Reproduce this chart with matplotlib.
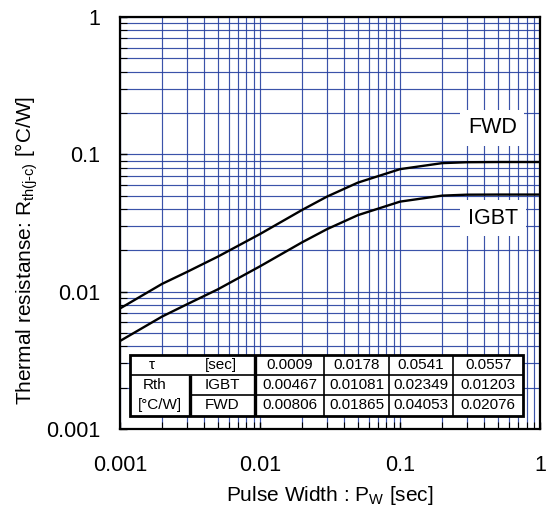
import matplotlib

matplotlib.use("Agg")

import matplotlib.pyplot as plt
from matplotlib.lines import Line2D
from matplotlib.patches import Rectangle
from matplotlib.ticker import FixedLocator, LogLocator, NullFormatter


PULSE_WIDTH = [0.001, 0.002, 0.003, 0.005, 0.01, 0.02, 0.03, 0.05, 0.1, 0.2, 0.3, 0.5, 1.0]
ZTH_IGBT = [0.00437, 0.00659, 0.00808, 0.0104, 0.0153, 0.0229, 0.0285, 0.0361,
            0.0453, 0.0501, 0.0509, 0.0510, 0.0510]
ZTH_FWD = [0.00754, 0.0114, 0.0139, 0.0180, 0.0263, 0.0394, 0.0492, 0.0623,
           0.0781, 0.0864, 0.0877, 0.0880, 0.0880]

TAU_SEC = ["0.0009", "0.0178", "0.0541", "0.0557"]
RTH_IGBT = ["0.00467", "0.01081", "0.02349", "0.01203"]
RTH_FWD = ["0.00806", "0.01865", "0.04053", "0.02076"]

MAJOR_TICKS = [0.001, 0.01, 0.1, 1]
MAJOR_LABELS = ["0.001", "0.01", "0.1", "1"]

GRID_COLOR = "#2640a0"
FONT = "Liberation Sans"

plt.rcParams["font.family"] = [FONT, "DejaVu Sans"]
plt.rcParams["mathtext.fontset"] = "custom"
plt.rcParams["mathtext.rm"] = FONT
plt.rcParams["mathtext.it"] = FONT


def draw_parameter_table(axis):
    """Foster network table drawn in axes-fraction coordinates."""
    # column and row edges, axes fraction
    cols = [0.024, 0.167, 0.321, 0.486, 0.640, 0.793, 0.960]
    rows = [0.180, 0.131, 0.083, 0.032]
    transform = axis.transAxes

    axis.add_patch(Rectangle((cols[0], rows[3]), cols[-1] - cols[0], rows[0] - rows[3],
                             transform=transform, facecolor="white", edgecolor="black",
                             linewidth=2.0, zorder=5))

    def line(x0, x1, y0, y1, width):
        axis.add_line(Line2D([x0, x1], [y0, y1], transform=transform, color="black",
                             linewidth=width, zorder=6, solid_capstyle="butt"))

    line(cols[0], cols[-1], rows[1], rows[1], 1.2)
    line(cols[1], cols[-1], rows[2], rows[2], 1.2)
    line(cols[1], cols[1], rows[1], rows[3], 2.4)
    line(cols[2], cols[2], rows[0], rows[3], 2.4)
    for x in cols[3:-1]:
        line(x, x, rows[0], rows[3], 1.2)

    def cell(x, y, text):
        axis.text(x, y, text, transform=transform, ha="center", va="center",
                  fontsize=11, zorder=7)

    row_mid = [(rows[i] + rows[i + 1]) / 2 for i in range(3)]
    cell(0.076, row_mid[0], "τ")
    cell(0.240, row_mid[0], "[sec]")
    cell(0.083, row_mid[1], "Rth")
    cell(0.244, row_mid[1], "IGBT")
    cell(0.095, row_mid[2], "[°C/W]")
    cell(0.244, row_mid[2], "FWD")

    for index, (tau, igbt, fwd) in enumerate(zip(TAU_SEC, RTH_IGBT, RTH_FWD)):
        x = (cols[index + 2] + cols[index + 3]) / 2
        cell(x, row_mid[0], tau)
        cell(x, row_mid[1], igbt)
        cell(x, row_mid[2], fwd)


figure = plt.figure(figsize=(5.5, 5.11), dpi=100)
axis = figure.add_axes([0.218, 0.1605, 0.764, 0.806])

axis.set_xscale("log")
axis.set_yscale("log")
axis.set_xlim(0.001, 1)
axis.set_ylim(0.001, 1)

axis.xaxis.set_major_locator(FixedLocator(MAJOR_TICKS))
axis.yaxis.set_major_locator(FixedLocator(MAJOR_TICKS))
axis.set_xticklabels(MAJOR_LABELS)
axis.set_yticklabels(MAJOR_LABELS)
axis.xaxis.set_minor_locator(LogLocator(base=10, subs=range(2, 10)))
axis.yaxis.set_minor_locator(LogLocator(base=10, subs=range(2, 10)))
axis.xaxis.set_minor_formatter(NullFormatter())
axis.yaxis.set_minor_formatter(NullFormatter())

axis.grid(True, which="both", color=GRID_COLOR, linewidth=0.85, alpha=0.9)
axis.set_axisbelow(True)
axis.tick_params(which="both", direction="in", top=False, right=False,
                 color="black", labelsize=15.5)
axis.tick_params(which="major", length=5, width=1.0)
axis.tick_params(which="minor", length=5, width=0.8)
axis.tick_params(axis="x", which="major", pad=19)
axis.tick_params(axis="y", which="major", pad=14)
for spine in axis.spines.values():
    spine.set_linewidth(1.6)
    spine.set_zorder(8)

axis.plot(PULSE_WIDTH, ZTH_FWD, color="black", linewidth=1.7, zorder=4)
axis.plot(PULSE_WIDTH, ZTH_IGBT, color="black", linewidth=1.7, zorder=4)

label_box = dict(facecolor="white", edgecolor="none", boxstyle="square,pad=0.35")
axis.text(0.886, 0.731, "FWD", transform=axis.transAxes, ha="center", va="center",
          fontsize=15.5, bbox=label_box, zorder=5)
axis.text(0.888, 0.512, "IGBT", transform=axis.transAxes, ha="center", va="center",
          fontsize=15.5, bbox=label_box, zorder=5)

draw_parameter_table(axis)

axis.set_xlabel("Pulse Width : P$_{\\mathrm{W}}$ [sec]", fontsize=15)
axis.set_ylabel("Thermal resistanse: R$_{\\text{th(j-c)}}$ [°C/W]", fontsize=15)
axis.xaxis.set_label_coords(0.5, -0.133)
axis.yaxis.set_label_coords(-0.19, 0.434)

figure.savefig("out.png", dpi=100)
plt.close(figure)
